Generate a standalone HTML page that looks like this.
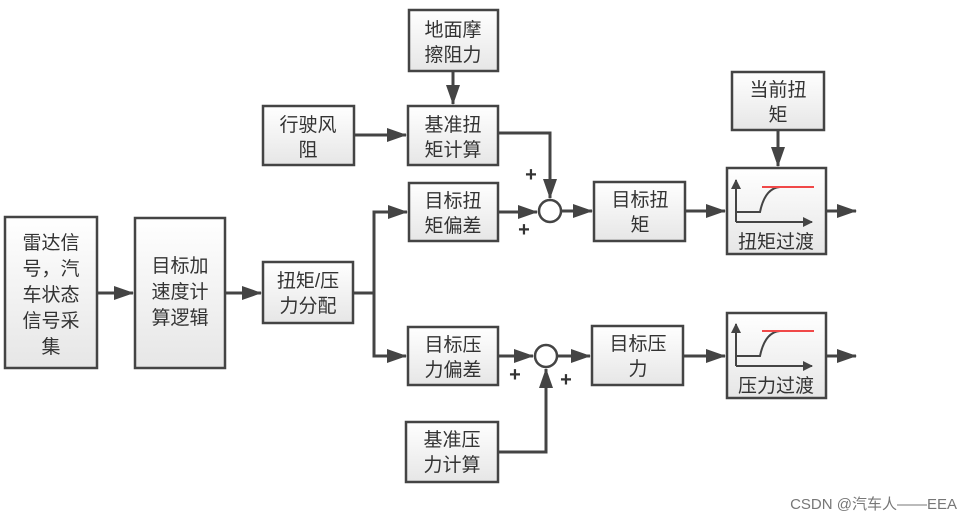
<!DOCTYPE html>
<html><head><meta charset="utf-8"><style>
body{margin:0;background:#fff;}
svg text{font-family:"Liberation Sans","Noto Sans CJK SC",sans-serif;fill:#333;}
</style></head><body>
<svg width="975" height="524" viewBox="0 0 975 524" xmlns="http://www.w3.org/2000/svg">
<defs>
<linearGradient id="g" x1="0" y1="0" x2="0" y2="1"><stop offset="0" stop-color="#ffffff"/><stop offset="1" stop-color="#e6e6e6"/></linearGradient>
<marker id="a" markerWidth="10" markerHeight="10" refX="9" refY="5" orient="auto" markerUnits="userSpaceOnUse"><path d="M0,0 L10,5 L0,10z" fill="#444"/></marker>
<marker id="b" markerWidth="20" markerHeight="14" refX="19" refY="7" orient="auto" markerUnits="userSpaceOnUse"><path d="M0,0 L20,7 L0,14z" fill="#444"/></marker>
</defs>
<g stroke="#444" stroke-width="2.5" fill="url(#g)">
<rect x="5" y="217" width="92" height="151"/>
<rect x="135" y="218" width="90" height="150"/>
<rect x="263" y="262" width="90" height="61"/>
<rect x="409" y="10" width="89" height="61"/>
<rect x="263" y="106" width="91" height="59"/>
<rect x="408" y="106" width="90" height="59"/>
<rect x="409" y="183" width="89" height="58"/>
<rect x="408" y="327" width="90" height="58"/>
<rect x="406" y="422" width="92" height="60"/>
<rect x="594" y="182" width="91" height="59"/>
<rect x="592" y="326" width="91" height="59"/>
<rect x="732" y="72" width="92" height="58"/>
<rect x="727" y="168" width="99" height="86"/>
<rect x="727" y="313" width="99" height="85"/>
</g>
<g stroke="#444" stroke-width="2.5" fill="#fff">
<circle cx="550" cy="211" r="11"/>
<circle cx="546" cy="356" r="11"/>
</g>
<g stroke="#444" stroke-width="3" fill="none">
<line x1="97" y1="293" x2="133" y2="293" marker-end="url(#b)"/>
<line x1="225" y1="293" x2="261" y2="293" marker-end="url(#b)"/>
<polyline points="353,293 374,293"/>
<polyline points="374,356 374,212 407,212" marker-end="url(#b)"/>
<polyline points="374,293 374,356 406,356" marker-end="url(#b)"/>
<line x1="453" y1="71" x2="453" y2="104" marker-end="url(#b)"/>
<line x1="354" y1="135" x2="406" y2="135" marker-end="url(#b)"/>
<polyline points="498,133 550,133 550,198" marker-end="url(#b)"/>
<line x1="498" y1="212" x2="537" y2="212" marker-end="url(#b)"/>
<line x1="561" y1="211" x2="592" y2="211" marker-end="url(#b)"/>
<line x1="685" y1="211" x2="725" y2="211" marker-end="url(#b)"/>
<line x1="778" y1="130" x2="778" y2="166" marker-end="url(#b)"/>
<line x1="826" y1="211" x2="856" y2="211" marker-end="url(#b)"/>
<line x1="498" y1="356" x2="533" y2="356" marker-end="url(#b)"/>
<polyline points="498,452 546,452 546,369" marker-end="url(#b)"/>
<line x1="557" y1="356" x2="590" y2="356" marker-end="url(#b)"/>
<line x1="683" y1="356" x2="725" y2="356" marker-end="url(#b)"/>
<line x1="826" y1="356" x2="856" y2="356" marker-end="url(#b)"/>
</g>
<g stroke="#444" stroke-width="2" fill="none">
<line x1="736" y1="222" x2="736" y2="180" marker-end="url(#a)"/>
<line x1="736" y1="222" x2="812" y2="222" marker-end="url(#a)"/>
<path d="M736,212 L760,212 Q765,188 780,187"/>
<line x1="736" y1="366" x2="736" y2="324" marker-end="url(#a)"/>
<line x1="736" y1="366" x2="812" y2="366" marker-end="url(#a)"/>
<path d="M736,356 L760,356 Q765,332 780,331"/>
</g>
<line x1="762" y1="187" x2="814" y2="187" stroke="#f04848" stroke-width="2"/>
<line x1="762" y1="331" x2="814" y2="331" stroke="#f04848" stroke-width="2"/>
<g font-size="19" text-anchor="middle">
<text x="51" y="249">雷达信</text><text x="51" y="275">号，汽</text><text x="51" y="301">车状态</text><text x="51" y="327">信号采</text><text x="51" y="353">集</text>
<text x="180" y="272">目标加</text><text x="180" y="298">速度计</text><text x="180" y="324">算逻辑</text>
<text x="308" y="287">扭矩/压</text><text x="308" y="312">力分配</text>
<text x="453" y="36">地面摩</text><text x="453" y="61">擦阻力</text>
<text x="308" y="131">行驶风</text><text x="308" y="156">阻</text>
<text x="453" y="131">基准扭</text><text x="453" y="156">矩计算</text>
<text x="453" y="207">目标扭</text><text x="453" y="232">矩偏差</text>
<text x="453" y="351">目标压</text><text x="453" y="376">力偏差</text>
<text x="452" y="446">基准压</text><text x="452" y="471">力计算</text>
<text x="640" y="206">目标扭</text><text x="640" y="231">矩</text>
<text x="638" y="350">目标压</text><text x="638" y="375">力</text>
<text x="778" y="96">当前扭</text><text x="778" y="121">矩</text>
<text x="776" y="248">扭矩过渡</text>
<text x="776" y="392">压力过渡</text>
</g>
<g font-size="20" font-weight="bold" text-anchor="middle">
<text x="531" y="181">+</text><text x="524" y="236">+</text>
<text x="515" y="381">+</text><text x="566" y="386">+</text>
</g>
<text x="957" y="509" font-size="15" text-anchor="end" style="fill:#777">CSDN @汽车人——EEA</text>
</svg>
</body></html>
